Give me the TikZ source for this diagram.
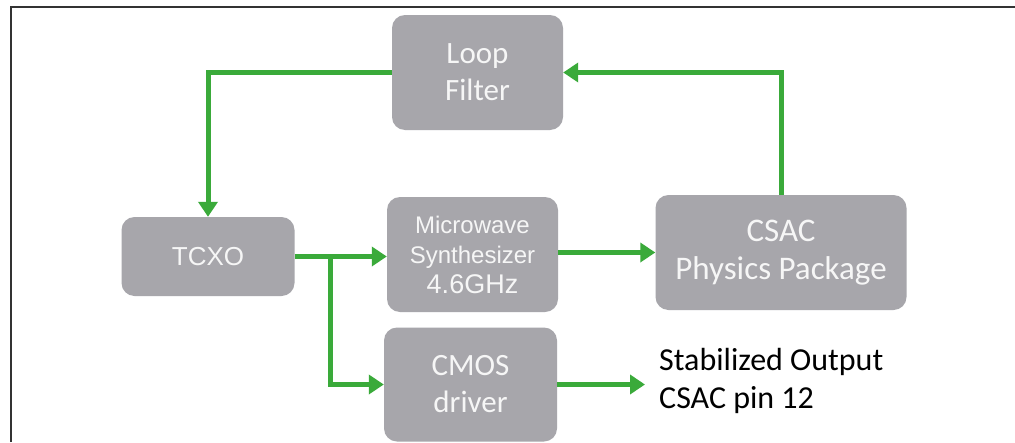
\documentclass[tikz,border=0pt]{standalone}
\usepackage{fontspec}
\setmainfont{Carlito}
\newfontfamily\arialf{Liberation Sans}
\usetikzlibrary{arrows.meta}
\definecolor{boxgray}{RGB}{167,166,171}
\definecolor{arrgreen}{RGB}{58,170,58}
\definecolor{boxtext}{RGB}{246,246,246}
\tikzset{
  blk/.style={draw=none,fill=boxgray,rounded corners=13pt,text=boxtext,align=center,inner sep=0pt,
    font=\fontsize{31}{37}\selectfont},
  arr/.style={draw=arrgreen,line width=5pt,-{Triangle[length=15pt,width=19pt]}},
  frame/.style={draw=black!80,line width=2pt}
}
\begin{document}
\begin{tikzpicture}[x=1pt,y=-1pt]
\useasboundingbox (0,0) rectangle (1015,442);
\fill[white] (0,0) rectangle (1015,442);
\draw[frame] (11,442) -- (11,7) -- (1015,7);
\node[blk,minimum width=171pt,minimum height=115pt] (LF) at (477.5,72.5) {Loop\\Filter};
\node[blk,minimum width=173pt,minimum height=79pt,font=\arialf\fontsize{26}{30}\selectfont] (TCXO) at (208,256.5) {TCXO};
\node[blk,minimum width=171pt,minimum height=115pt,font=\arialf\fontsize{24}{30}\selectfont] (MW) at (472.5,254.5) {Microwave\\Synthesizer\\{\fontsize{27}{30}\selectfont 4.6GHz}};
\node[blk,minimum width=251pt,minimum height=115pt,font=\fontsize{33}{38}\selectfont] (CSAC) at (781,252.5) {CSAC\\Physics Package};
\node[blk,minimum width=173pt,minimum height=114pt] (CMOS) at (470.5,384.5) {CMOS\\driver};
\node[anchor=west,align=left,inner sep=0pt,font=\fontsize{32}{38}\selectfont,text=black] (OUT) at (659,381) {Stabilized Output\\CSAC pin 12};
\coordinate (br) at (330,256.5);
\coordinate (outend) at (645,384.5);
\draw[arr] (LF.west) -| (TCXO.north);
\draw[arr] (CSAC.north) |- (LF.east);
\draw[arr] (TCXO.east) -- (TCXO.east -| MW.west);
\draw[arr] (br) |- (CMOS.west);
\draw[arr] (MW.east |- CSAC.west) -- (CSAC.west);
\draw[arr] (CMOS.east) -- (outend);
\end{tikzpicture}
\end{document}
